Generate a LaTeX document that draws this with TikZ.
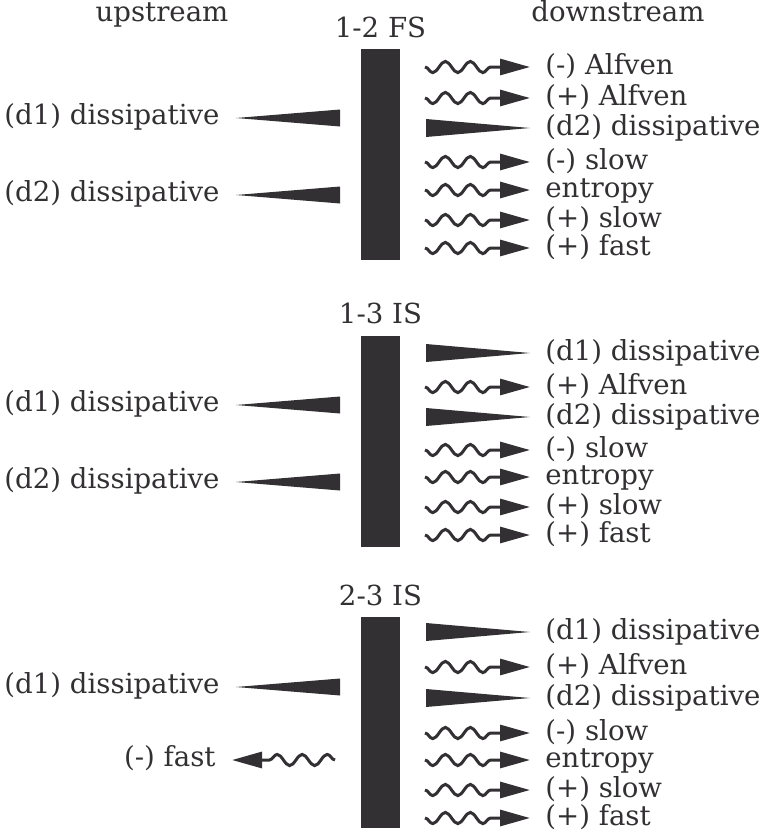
\documentclass[tikz,border=0pt]{standalone}
\usepackage{fontspec}
\setmainfont{DejaVu Serif}
\usetikzlibrary{arrows.meta,decorations.pathmorphing}
\definecolor{ink}{RGB}{50,48,50}

\begin{document}
\begin{tikzpicture}[x=0.5pt, y=-0.5pt, font=\fontsize{13.8}{16}\selectfont, text=ink]

\tikzstyle{every node} = [inner sep=0pt]
\tikzstyle{shock} = [rectangle, fill=ink, minimum width=19.5pt, minimum height=105.5pt]
\tikzstyle{dlabel} = [anchor=west, inner xsep=7.5pt, text height=0.8em, text depth=0.25em-2pt]
\tikzstyle{ulabel} = [anchor=east, inner xsep=8pt, text height=0.8em, text depth=0.25em-1pt]
\tikzstyle{wave} = [draw=ink, line width=1.5pt, decorate,
  decoration={snake, amplitude=-2.8pt, segment length=12.5pt, post length=15pt},
  -{Triangle[length=15pt,width=8pt]}]

\useasboundingbox (0,0) rectangle (759,831);

\node (hup) at (162,21) [anchor=base] {upstream};
\node (hdown) at (618,21) [anchor=base] {downstream};

% 1-2 fast shock
\node (t12) at (380.5,37) [anchor=base] {1-2 FS};
\node[shock] (fs) at (380.5,154) {};

\node[ulabel] (ud1) at (236,118) {(d1) dissipative};
\node[ulabel] (ud2) at (236,195) {(d2) dissipative};
\coordinate (wu1) at (340,118);
\coordinate (wu2) at (340,195);

\node[dlabel] (am) at (530,67) {(-) Alfven};
\node[dlabel] (ap) at (530,98) {(+) Alfven};
\node[dlabel] (d2) at (530,128) {(d2) dissipative};
\node[dlabel] (sm) at (530,162) {(-) slow};
\node[dlabel] (en) at (530,190) {entropy};
\node[dlabel] (sp) at (530,220) {(+) slow};
\node[dlabel] (fp) at (530,248) {(+) fast};
\coordinate (wam) at (425,67);
\coordinate (wap) at (425,98);
\coordinate (wd2) at (426,128);
\coordinate (wsm) at (425,162);
\coordinate (wen) at (425,190);
\coordinate (wsp) at (425,220);
\coordinate (wfp) at (425,248);

\fill[ink] (wu1) ++(0,-8.5) -- ++(0,17) -- (ud1.east) -- cycle;
\fill[ink] (wu2) ++(0,-8.5) -- ++(0,17) -- (ud2.east) -- cycle;
\draw[wave] (wam) -- (am.west);
\draw[wave] (wap) -- (ap.west);
\fill[ink] (wd2) ++(0,-9) -- ++(0,18) -- (d2.west) -- cycle;
\draw[wave] (wsm) -- (sm.west);
\draw[wave] (wen) -- (en.west);
\draw[wave] (wsp) -- (sp.west);
\draw[wave] (wfp) -- (fp.west);

% 1-3 intermediate shock
\node (t13) at (380.5,323) [anchor=base] {1-3 IS};
\node[shock] (is13) at (380.5,441.5) {};

\node[ulabel] (vd1) at (236,405) {(d1) dissipative};
\node[ulabel] (vd2) at (236,482) {(d2) dissipative};
\coordinate (wv1) at (340,405);
\coordinate (wv2) at (340,482);

\node[dlabel] (bd1) at (530,353) {(d1) dissipative};
\node[dlabel] (bap) at (530,387) {(+) Alfven};
\node[dlabel] (bd2) at (530,417) {(d2) dissipative};
\node[dlabel] (bsm) at (530,450) {(-) slow};
\node[dlabel] (ben) at (530,477) {entropy};
\node[dlabel] (bsp) at (530,507) {(+) slow};
\node[dlabel] (bfp) at (530,535) {(+) fast};
\coordinate (wbd1) at (426,353);
\coordinate (wbap) at (425,387);
\coordinate (wbd2) at (426,417);
\coordinate (wbsm) at (425,450);
\coordinate (wben) at (425,477);
\coordinate (wbsp) at (425,507);
\coordinate (wbfp) at (425,535);

\fill[ink] (wv1) ++(0,-8.5) -- ++(0,17) -- (vd1.east) -- cycle;
\fill[ink] (wv2) ++(0,-8.5) -- ++(0,17) -- (vd2.east) -- cycle;
\fill[ink] (wbd1) ++(0,-9) -- ++(0,18) -- (bd1.west) -- cycle;
\draw[wave] (wbap) -- (bap.west);
\fill[ink] (wbd2) ++(0,-9) -- ++(0,18) -- (bd2.west) -- cycle;
\draw[wave] (wbsm) -- (bsm.west);
\draw[wave] (wben) -- (ben.west);
\draw[wave] (wbsp) -- (bsp.west);
\draw[wave] (wbfp) -- (bfp.west);

% 2-3 intermediate shock
\node (t23) at (380.5,605) [anchor=base] {2-3 IS};
\node[shock] (is23) at (380.5,722.5) {};

\node[ulabel] (xd1) at (236,687) {(d1) dissipative};
\node[ulabel] (xfm) at (232,760) {(-) fast};
\coordinate (wx1) at (340,687);
\coordinate (wxfm) at (335,760);

\node[dlabel] (cd1) at (530,632) {(d1) dissipative};
\node[dlabel] (cap) at (530,667) {(+) Alfven};
\node[dlabel] (cd2) at (530,698) {(d2) dissipative};
\node[dlabel] (csm) at (530,733) {(-) slow};
\node[dlabel] (cen) at (530,760) {entropy};
\node[dlabel] (csp) at (530,790) {(+) slow};
\node[dlabel] (cfp) at (530,818) {(+) fast};
\coordinate (wcd1) at (426,632);
\coordinate (wcap) at (425,667);
\coordinate (wcd2) at (426,698);
\coordinate (wcsm) at (425,733);
\coordinate (wcen) at (425,760);
\coordinate (wcsp) at (425,790);
\coordinate (wcfp) at (425,818);

\fill[ink] (wx1) ++(0,-8.5) -- ++(0,17) -- (xd1.east) -- cycle;
\draw[wave] (wxfm) -- (xfm.east);
\fill[ink] (wcd1) ++(0,-9) -- ++(0,18) -- (cd1.west) -- cycle;
\draw[wave] (wcap) -- (cap.west);
\fill[ink] (wcd2) ++(0,-9) -- ++(0,18) -- (cd2.west) -- cycle;
\draw[wave] (wcsm) -- (csm.west);
\draw[wave] (wcen) -- (cen.west);
\draw[wave] (wcsp) -- (csp.west);
\draw[wave] (wcfp) -- (cfp.west);
\end{tikzpicture}
\end{document}
